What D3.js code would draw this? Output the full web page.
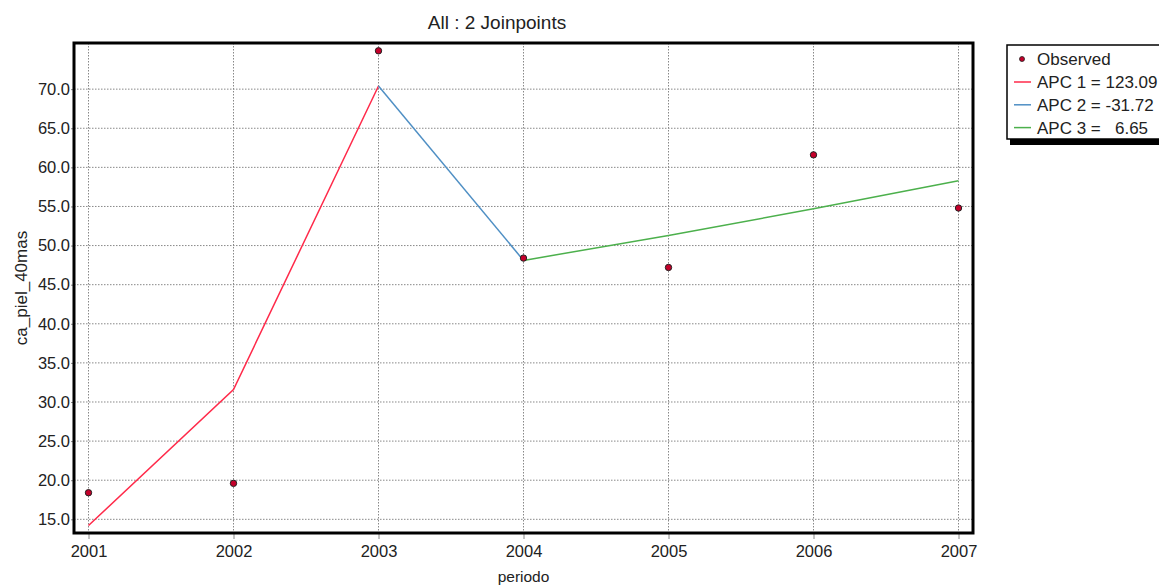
<!DOCTYPE html>
<html>
<head>
<meta charset="utf-8">
<script src="https://cdn.jsdelivr.net/npm/d3@7"></script>
<style>
  body { margin: 0; background: #fff; }
  text { font-family: "Liberation Sans", Arial, sans-serif; fill: #222; }
</style>
</head>
<body>
<div id="chart"></div>
<script>
// Data
var years = [2001, 2002, 2003, 2004, 2005, 2006, 2007];
var observed = [18.4, 19.6, 74.9, 48.4, 47.2, 61.6, 54.8];
var fitted = [14.2, 31.6, 70.4, 48.1, 51.3, 54.7, 58.3];
var segments = [
  { label: "APC 1 = 123.09", from: 2001, to: 2003, color: "#ff2a4a" },
  { label: "APC 2 = -31.72", from: 2003, to: 2004, color: "#4f8fc4" },
  { label: "APC 3 =   6.65", from: 2004, to: 2007, color: "#4cb04c" }
];
var yTicks = [15, 20, 25, 30, 35, 40, 45, 50, 55, 60, 65, 70];

var svgWidth = 1159;
var svgHeight = 587;

var margin = { top: 43, right: 186, bottom: 54, left: 74 };
var width = svgWidth - margin.left - margin.right;
var height = svgHeight - margin.top - margin.bottom;

var svg = d3.select("#chart")
  .append("svg")
  .attr("width", svgWidth)
  .attr("height", svgHeight);

var chartGroup = svg.append("g")
  .attr("transform", `translate(${margin.left}, ${margin.top})`);

var xScale = d3.scaleLinear()
  .domain([2000.9, 2007.1])
  .range([0, width]);

var yScale = d3.scaleLinear()
  .domain([13.25, 75.9])
  .range([height, 0]);

// Grid
chartGroup.append("g")
  .selectAll("line")
  .data(yTicks)
  .enter()
  .append("line")
  .attr("x1", 0)
  .attr("x2", width)
  .attr("y1", d => yScale(d))
  .attr("y2", d => yScale(d))
  .attr("stroke", "#888")
  .attr("stroke-dasharray", "1.5,1.5");

chartGroup.append("g")
  .selectAll("line")
  .data(years)
  .enter()
  .append("line")
  .attr("x1", d => xScale(d))
  .attr("x2", d => xScale(d))
  .attr("y1", 0)
  .attr("y2", height)
  .attr("stroke", "#888")
  .attr("stroke-dasharray", "1.5,1.5");

// Axes
var bottomAxis = d3.axisBottom(xScale)
  .tickValues(years)
  .tickFormat(d3.format("d"))
  .tickSize(6)
  .tickPadding(6);

var leftAxis = d3.axisLeft(yScale)
  .tickValues(yTicks)
  .tickFormat(d3.format(".1f"))
  .tickSize(3)
  .tickPadding(1);

var xAxisG = chartGroup.append("g")
  .attr("transform", `translate(0, ${height})`)
  .call(bottomAxis);
xAxisG.select(".domain").remove();
xAxisG.selectAll("line").attr("stroke", "#888");
xAxisG.selectAll("text").style("font-size", "16.5px").attr("fill", "#222");

var yAxisG = chartGroup.append("g").call(leftAxis);
yAxisG.select(".domain").remove();
yAxisG.selectAll("line").attr("stroke", "#888");
yAxisG.selectAll("text").style("font-size", "16.5px").attr("fill", "#222");

// Fitted segments
segments.forEach(function(s) {
  var pts = years.map((y, i) => ({ x: y, y: fitted[i] }))
    .filter(p => p.x >= s.from && p.x <= s.to);
  chartGroup.append("path")
    .datum(pts)
    .attr("fill", "none")
    .attr("stroke", s.color)
    .attr("stroke-width", 1.5)
    .attr("d", d3.line().x(d => xScale(d.x)).y(d => yScale(d.y)));
});

// Observed points
chartGroup.selectAll("circle.obs")
  .data(years)
  .enter()
  .append("circle")
  .attr("class", "obs")
  .attr("cx", d => xScale(d))
  .attr("cy", (d, i) => yScale(observed[i]))
  .attr("r", 3.2)
  .attr("fill", "#c4002a")
  .attr("stroke", "#222")
  .attr("stroke-width", 1);

// Frame
chartGroup.append("rect")
  .attr("x", 0)
  .attr("y", 0)
  .attr("width", width)
  .attr("height", height)
  .attr("fill", "none")
  .attr("stroke", "#000")
  .attr("stroke-width", 3);

// Title
svg.append("text")
  .attr("x", 497)
  .attr("y", 29)
  .style("text-anchor", "middle")
  .style("font-size", "19px")
  .text("All : 2 Joinpoints");

// Axis labels
svg.append("text")
  .attr("transform", `translate(27, ${margin.top + height / 2}) rotate(-90)`)
  .style("text-anchor", "middle")
  .style("font-size", "17px")
  .text("ca_piel_40mas");

svg.append("text")
  .attr("x", margin.left + width / 2)
  .attr("y", 582)
  .style("text-anchor", "middle")
  .style("font-size", "15.5px")
  .text("periodo");

// Legend
var legend = svg.append("g").attr("transform", "translate(1007, 45)");
legend.append("rect")
  .attr("x", 3).attr("y", 4).attr("width", 200).attr("height", 96)
  .attr("fill", "#000");
legend.append("rect")
  .attr("x", 0).attr("y", 0).attr("width", 200).attr("height", 94)
  .attr("fill", "#fff").attr("stroke", "#000").attr("stroke-width", 1.5);

legend.append("circle")
  .attr("cx", 15).attr("cy", 14).attr("r", 2.5)
  .attr("fill", "#c4002a").attr("stroke", "#222").attr("stroke-width", 0.8);
legend.append("text")
  .attr("x", 30).attr("y", 20)
  .style("font-size", "17px")
  .text("Observed");

segments.forEach(function(s, i) {
  var yy = 37 + i * 22.8;
  legend.append("line")
    .attr("x1", 7).attr("x2", 24)
    .attr("y1", yy).attr("y2", yy)
    .attr("stroke", s.color).attr("stroke-width", 1.5);
  legend.append("text")
    .attr("x", 30).attr("y", yy + 6)
    .style("font-size", "17px")
    .attr("xml:space", "preserve")
    .text(s.label);
});
</script>
</body>
</html>
